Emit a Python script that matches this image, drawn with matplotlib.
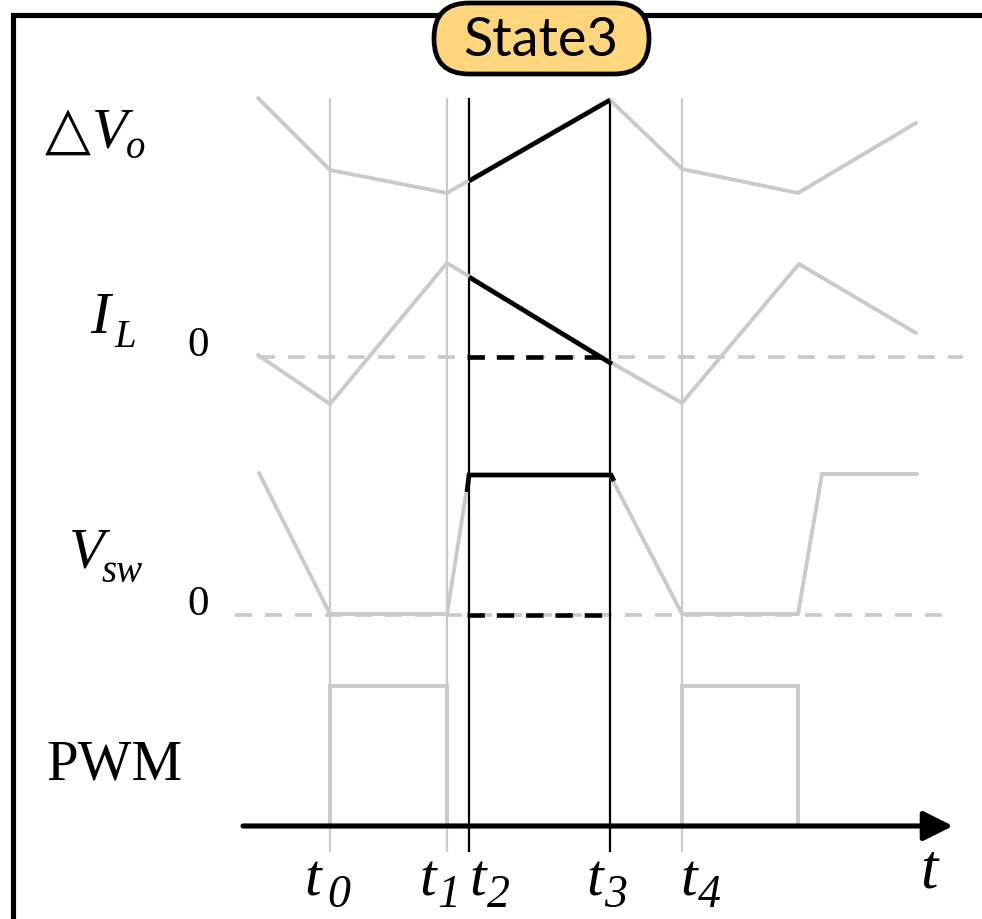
import matplotlib
matplotlib.use("Agg")
import matplotlib.pyplot as plt
from matplotlib.patches import FancyBboxPatch

plt.rcParams['lines.scale_dashes'] = False

# ---------------- data (schematic coordinates, y grows downward) ----------------
t_names = ["0", "1", "2", "3", "4"]
t_marks = [330, 447, 469, 610, 682]          # t0 .. t4
t_active = [False, False, True, True, False]  # t2, t3 belong to State3
v_top, v_bottom = 99, 851

# Output voltage ripple  ΔVo
dv_x = [258, 330, 447, 610, 682, 798, 916]
dv_y = [98, 170, 193, 100, 169, 193, 123]
dv_hi_x = [469, 610]
dv_hi_y = [181, 100]

# Inductor current  IL
il_x = [258, 330, 447, 610, 682, 799, 916]
il_y = [355, 404, 263, 362, 403, 264, 333]
il_hi_x = [469, 612]
il_hi_y = [277, 364]
il_zero = 357

# Switch-node voltage  Vsw
vsw_x = [259, 330, 447, 469, 610, 682, 798, 822, 917]
vsw_y = [473, 614, 614, 475, 475, 614, 614, 474, 474]
vsw_hi_x = [467, 469, 611, 614]
vsw_hi_y = [492, 475, 475, 481]
vsw_zero = 615

# PWM pulses
pwm_x1 = [330, 330, 447, 447]
pwm_x2 = [682, 682, 798, 798]
pwm_y = [826, 686, 686, 826]

# time axis
axis_y = 826
axis_x0, axis_x1 = 243, 953

# text
title = "State3"
t_label_x = [304, 419, 469, 586, 680]
t_sub_x = [327, 437, 487, 604, 698]

# ---------------- figure ----------------
fig = plt.figure(figsize=(9.82, 9.19), dpi=100)
ax = fig.add_axes([0, 0, 1, 1])
ax.set_xlim(0, 982)
ax.set_ylim(919, 0)
ax.axis('off')

GRAY = '#cacaca'
serif = 'Liberation Serif'

# frame
frame_x = [13, 13, 990]
frame_y = [930, 15, 15]
ax.plot(frame_x, frame_y, color='black', lw=3.7, solid_joinstyle='miter', zorder=1)

# title pill
pill = FancyBboxPatch((434, 3), 215, 71, boxstyle="round,pad=0,rounding_size=35",
                      fc='#FFD57E', ec='black', lw=3.4, zorder=5)
ax.add_patch(pill)
ax.text(541, 41, title, fontsize=39, family='Lato', ha='center', va='center', zorder=6)

# vertical time markers
for x, act in zip(t_marks, t_active):
    ax.plot([x, x], [v_top, v_bottom], color='black' if act else GRAY,
            lw=1.6, zorder=2 if act else 1)

# zero reference lines (dashed)
ax.plot([258, 963], [il_zero, il_zero], color=GRAY, lw=2.7, dashes=(12.2, 9.4),
        zorder=1)
ax.plot([235, 943], [vsw_zero, vsw_zero], color=GRAY, lw=2.7, dashes=(12.2, 9.4),
        zorder=1)
ax.plot([467, 605], [il_zero, il_zero], color='black', lw=3.3, dashes=(12.5, 8.6), zorder=3)
ax.plot([467, 607], [vsw_zero, vsw_zero], color='black', lw=3.3, dashes=(12.5, 8.6), zorder=3)

# gray waveforms
kw = dict(color=GRAY, lw=2.8, solid_capstyle='round', solid_joinstyle='miter', zorder=2)
ax.plot(dv_x, dv_y, **kw)
ax.plot(il_x, il_y, **kw)
ax.plot(vsw_x, vsw_y, **kw)
ax.plot(pwm_x1, pwm_y, **kw)
ax.plot(pwm_x2, pwm_y, **kw)

# highlighted State3 segments
kb = dict(color='black', lw=3.4, solid_capstyle='butt', solid_joinstyle='miter', zorder=4)
ax.plot(dv_hi_x, dv_hi_y, **kb)
ax.plot(il_hi_x, il_hi_y, **kb)
ax.plot(vsw_hi_x, vsw_hi_y, **kb)

# time axis with arrow
ax.annotate('', xy=(axis_x1, axis_y), xytext=(axis_x0, axis_y),
            arrowprops=dict(arrowstyle='-|>,head_length=1.8,head_width=0.9',
                            lw=3.7, color='black', shrinkA=0, shrinkB=0,
                            mutation_scale=10), zorder=5)

# left labels
ax.text(45, 148, '\u25B3', family='DejaVu Sans', fontweight='bold', fontsize=43,
        va='baseline', ha='left')
ax.text(92, 147, 'V', family=serif, style='italic', fontsize=42, va='baseline')
ax.text(126, 158, 'o', family=serif, style='italic', fontsize=28, va='baseline')

ax.text(90, 333, 'I', family=serif, style='italic', fontsize=43, va='baseline')
ax.text(114, 347, 'L', family=serif, style='italic', fontsize=28, va='baseline')
ax.text(187, 356, '0', family=serif, fontsize=31, va='baseline')

ax.text(69, 568, 'V', family=serif, style='italic', fontsize=42, va='baseline')
ax.text(102, 582, 'sw', family=serif, style='italic', fontsize=28, va='baseline')
ax.text(187, 615, '0', family=serif, fontsize=31, va='baseline')

ax.text(46, 779, 'PWM', family=serif, fontsize=41, va='baseline')

# time labels
for name, xl, xs in zip(t_names, t_label_x, t_sub_x):
    ax.text(xl, 896, 't', family=serif, style='italic', fontsize=43, va='baseline')
    ax.text(xs, 907, name, family=serif, style='italic', fontsize=33, va='baseline')
ax.text(920, 887, 't', family=serif, style='italic', fontsize=45, va='baseline')

fig.savefig('out.png', dpi=100)
